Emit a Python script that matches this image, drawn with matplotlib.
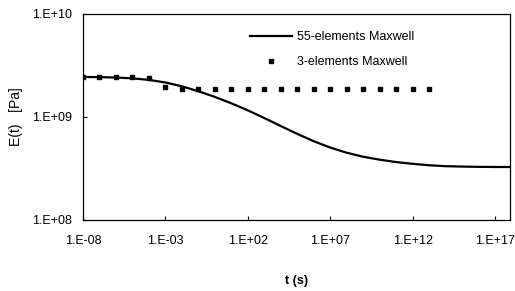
import matplotlib
matplotlib.use("Agg")
import matplotlib.pyplot as plt

# 55-element Maxwell relaxation modulus, read per decade
t_55 = [1e-8, 1e-7, 1e-6, 1e-5, 1e-4, 1e-3, 1e-2, 1e-1, 1e0, 1e1, 1e2, 1e3, 1e4,
        1e5, 1e6, 1e7, 1e8, 1e9, 1e10, 1e11, 1e12, 1e13, 1e14, 1e15, 1e16, 1e17, 1e18]
E_55 = [2.443e9, 2.438e9, 2.415e9, 2.371e9, 2.291e9, 2.163e9, 1.986e9, 1.778e9,
        1.567e9, 1.358e9, 1.161e9, 9.77e8, 8.17e8, 6.86e8, 5.82e8, 5.05e8, 4.50e8,
        4.11e8, 3.85e8, 3.65e8, 3.51e8, 3.40e8, 3.33e8, 3.30e8, 3.28e8, 3.27e8, 3.27e8]

# 3-element Maxwell, square markers
t_3 = [1e-8, 1e-7, 1e-6, 1e-5, 1e-4, 1e-3, 1e-2, 1e-1, 1e0, 1e1, 1e2, 1e3, 1e4,
       1e5, 1e6, 1e7, 1e8, 1e9, 1e10, 1e11, 1e12, 1e13]
E_3 = [2.44e9, 2.44e9, 2.44e9, 2.42e9, 2.39e9, 1.95e9, 1.87e9, 1.87e9, 1.87e9,
       1.87e9, 1.87e9, 1.87e9, 1.87e9, 1.87e9, 1.87e9, 1.87e9, 1.87e9, 1.87e9,
       1.87e9, 1.87e9, 1.87e9, 1.87e9]

x_ticks = [1e-8, 1e-3, 1e2, 1e7, 1e12, 1e17]
x_labels = ["1.E-08", "1.E-03", "1.E+02", "1.E+07", "1.E+12", "1.E+17"]
y_ticks = [1e8, 1e9, 1e10]
y_labels = ["1.E+08", "1.E+09", "1.E+10"]

plt.rcParams['font.family'] = ['Liberation Sans', 'DejaVu Sans']

fig = plt.figure(figsize=(5.15, 2.91), dpi=100)
ax = fig.add_axes([0.161, 0.244, 0.829, 0.708])

ax.plot(t_55, E_55, color='black', linewidth=1.6, label='55-elements Maxwell')
ax.plot(t_3, E_3, linestyle='none', marker='s', markersize=3, color='black',
        label='3-elements Maxwell')

ax.set_xscale('log')
ax.set_yscale('log')
ax.set_xlim(1e-8, 10 ** 17.9)
ax.set_ylim(1e8, 1e10)
ax.set_xticks(x_ticks)
ax.set_xticklabels(x_labels)
ax.set_yticks(y_ticks)
ax.set_yticklabels(y_labels)
ax.minorticks_off()
ax.tick_params(direction='in', length=3, width=0.8, labelsize=9)
ax.tick_params(axis='x', pad=11)
ax.tick_params(axis='y', pad=8)
for s in ax.spines.values():
    s.set_linewidth(0.9)

ax.set_xlabel('t (s)', fontsize=9, fontweight='bold', labelpad=20)
ax.set_ylabel('E(t)   [Pa]', fontsize=10, labelpad=6)

ax.legend(loc='upper left', bbox_to_anchor=(0.391, 0.915), frameon=False,
          fontsize=9, handlelength=3.4, handletextpad=0.35, labelspacing=1.0,
          borderpad=0, borderaxespad=0, numpoints=1)

fig.savefig('out.png', dpi=100)
